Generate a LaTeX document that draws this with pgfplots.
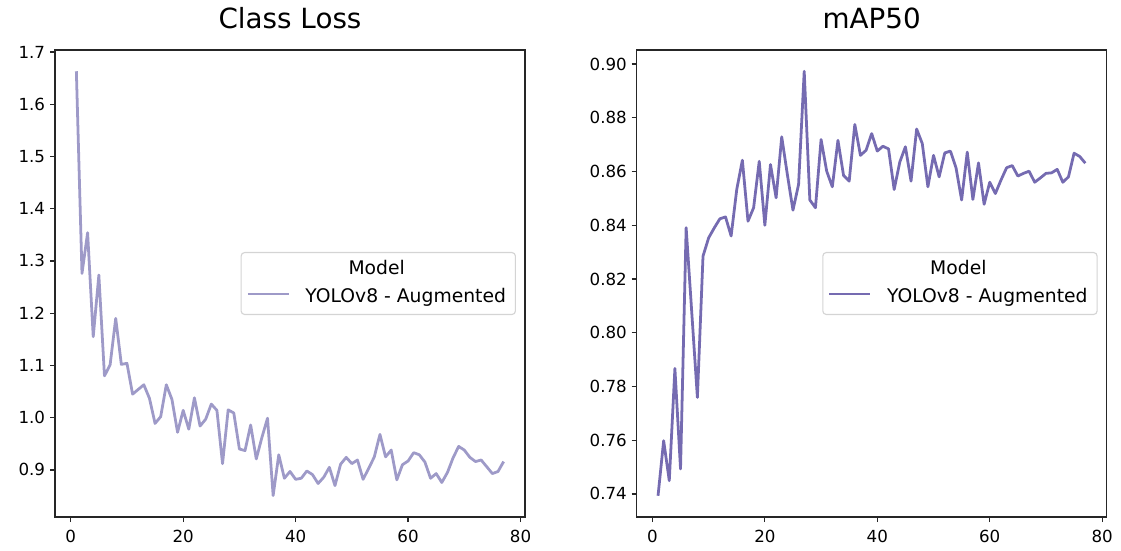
\documentclass[border=0pt]{standalone}
\usepackage{fontspec}
\setmainfont{DejaVu Sans}
\usepackage{pgfplots}
\pgfplotsset{compat=1.18}
\definecolor{lossline}{HTML}{9E9AC8}
\definecolor{mapline}{HTML}{756BB1}
\definecolor{legframe}{HTML}{D4D4D4}

\pgfplotsset{
  mplstyle/.style={
    scale only axis, width=338.4pt, height=336.2pt,
    axis line style={line width=0.9pt, black!85},
    tick align=outside, tick pos=left,
    major tick length=3.6pt,
    every tick/.style={line width=0.9pt, black!85},
    /pgf/number format/assume math mode=true,
    ticklabel style={font=\fontsize{12}{14}\selectfont},
    xticklabel style={yshift=-2.5pt},
    xtick={0,20,40,60,80},
    xmin=-2.8, xmax=80.8,
    title style={at={(0.5,1)}, anchor=base, yshift=9.5pt, inner sep=0pt,
      font=\fontsize{20}{24}\selectfont},
    legend style={at={(1,0.5)}, anchor=east, xshift=-6.5pt,
      draw=legframe, line width=0.8pt, rounded corners=2.5pt,
      fill=white, inner xsep=3.8pt, inner ysep=5.8pt,
      font=\fontsize{13.5}{15}\selectfont,
      nodes={inner sep=0pt, text height=10pt, text depth=3pt, anchor=west},
      column sep=11pt, row sep=7pt},
    legend image code/.code={\draw[#1] (0pt,0.25em) -- (29.5pt,0.25em);},
  }
}

\begin{document}
\begin{tikzpicture}
\useasboundingbox (-39.6pt,-23.76pt) rectangle (767.52pt,372.24pt);

% left panel
\begin{axis}[mplstyle,
  title={Class Loss},
  ymin=0.8099, ymax=1.7036,
  ytick={0.9,1.0,1.1,1.2,1.3,1.4,1.5,1.6,1.7},
  yticklabel style={/pgf/number format/.cd, fixed, fixed zerofill, precision=1},
]
  \addlegendimage{empty legend}
  \addlegendentry{\hspace*{31pt}Model}
  \addplot[color=lossline, line width=2pt, line join=round] coordinates {
    (1,1.663) (2,1.276) (3,1.354) (4,1.155) (5,1.273) (6,1.080) (7,1.101)
    (8,1.190) (9,1.102) (10,1.104) (11,1.045) (12,1.054) (13,1.063) (14,1.037)
    (15,0.989) (16,1.002) (17,1.063) (18,1.035) (19,0.972) (20,1.014) (21,0.978)
    (22,1.038) (23,0.984) (24,0.997) (25,1.026) (26,1.014) (27,0.912) (28,1.015)
    (29,1.009) (30,0.940) (31,0.937) (32,0.986) (33,0.921) (34,0.962) (35,0.999)
    (36,0.851) (37,0.929) (38,0.884) (39,0.897) (40,0.882) (41,0.884) (42,0.898)
    (43,0.891) (44,0.874) (45,0.886) (46,0.905) (47,0.870) (48,0.911) (49,0.924)
    (50,0.912) (51,0.919) (52,0.882) (53,0.903) (54,0.925) (55,0.968) (56,0.925)
    (57,0.938) (58,0.881) (59,0.910) (60,0.917) (61,0.933) (62,0.929) (63,0.915)
    (64,0.884) (65,0.893) (66,0.876) (67,0.895) (68,0.923) (69,0.945) (70,0.938)
    (71,0.924) (72,0.916) (73,0.919) (74,0.906) (75,0.893) (76,0.897) (77,0.916)
  };
  \addlegendentry{YOLOv8 - Augmented\hspace*{3pt}}
\end{axis}

% right panel
\begin{axis}[mplstyle, xshift=418.8pt,
  title={mAP50},
  ymin=0.7314, ymax=0.9052,
  ytick={0.74,0.76,0.78,0.80,0.82,0.84,0.86,0.88,0.90},
  yticklabel style={/pgf/number format/.cd, fixed, fixed zerofill, precision=2},
]
  \addlegendimage{empty legend}
  \addlegendentry{\hspace*{31pt}Model}
  \addplot[color=mapline, line width=2pt, line join=round] coordinates {
    (1,0.7393) (2,0.7598) (3,0.7449) (4,0.7867) (5,0.7493) (6,0.8391) (7,0.8075)
    (8,0.7759) (9,0.8285) (10,0.8353) (11,0.8390) (12,0.8424) (13,0.8431) (14,0.8360)
    (15,0.8533) (16,0.8642) (17,0.8415) (18,0.8465) (19,0.8638) (20,0.8400) (21,0.8626)
    (22,0.8502) (23,0.8729) (24,0.8589) (25,0.8456) (26,0.8552) (27,0.8973) (28,0.8494)
    (29,0.8465) (30,0.8719) (31,0.8601) (32,0.8543) (33,0.8716) (34,0.8585) (35,0.8564)
    (36,0.8775) (37,0.8660) (38,0.8679) (39,0.8741) (40,0.8676) (41,0.8694) (42,0.8684)
    (43,0.8533) (44,0.8635) (45,0.8692) (46,0.8564) (47,0.8758) (48,0.8704) (49,0.8543)
    (50,0.8660) (51,0.8580) (52,0.8669) (53,0.8676) (54,0.8614) (55,0.8494) (56,0.8672)
    (57,0.8496) (58,0.8632) (59,0.8478) (60,0.8560) (61,0.8518) (62,0.8568) (63,0.8614)
    (64,0.8622) (65,0.8583) (66,0.8593) (67,0.8601) (68,0.8560) (69,0.8576) (70,0.8593)
    (71,0.8595) (72,0.8608) (73,0.8560) (74,0.8580) (75,0.8668) (76,0.8656) (77,0.8631)
  };
  \addlegendentry{YOLOv8 - Augmented\hspace*{3pt}}
\end{axis}
\end{tikzpicture}
\end{document}
